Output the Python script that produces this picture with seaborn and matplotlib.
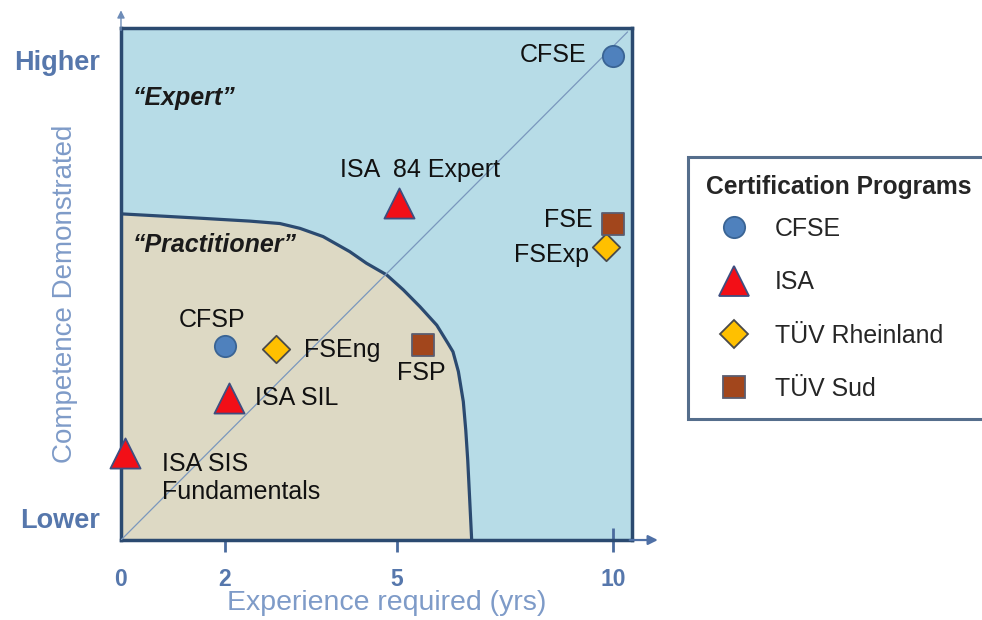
import numpy as np
import pandas as pd
import matplotlib
matplotlib.use("Agg")
import matplotlib.pyplot as plt
from matplotlib.lines import Line2D
import seaborn as sns

# ---------------- data ----------------
programs = ["CFSE", "ISA", "TÜV Rheinland", "TÜV Sud"]
cert_names = ["CFSE", "ISA  84 Expert", "FSE", "FSExp", "CFSP", "FSEng",
              "FSP", "ISA SIL", "ISA SIS\nFundamentals"]
cert_program = ["CFSE", "ISA", "TÜV Sud", "TÜV Rheinland", "CFSE",
                "TÜV Rheinland", "TÜV Sud", "ISA", "ISA"]
experience = [10.0, 5.65, 10.0, 9.86, 2.11, 3.15, 6.14, 2.2, 0.08]
competence = [10.0, 6.96, 6.53, 6.05, 4.01, 3.95, 4.03, 2.93, 1.80]

x_tick_pos = [0, 2.11, 5.61, 10]
x_tick_labels = ["0", "2", "5", "10"]
y_tick_pos = [0.45, 9.92]
y_tick_labels = ["Lower", "Higher"]

# boundary of the "Practitioner" region
boundary_x = [0, 1.61, 2.62, 3.23, 3.64, 4.11, 4.65, 4.99, 5.40, 5.74,
              6.08, 6.42, 6.65, 6.75, 6.86, 6.96, 7.01, 7.05, 7.09, 7.13]
boundary_y = [6.74, 6.65, 6.59, 6.54, 6.44, 6.27, 5.96, 5.72, 5.48, 5.17,
              4.82, 4.44, 4.06, 3.89, 3.48, 2.86, 2.27, 1.65, 0.83, 0]

df = pd.DataFrame({"name": cert_names, "program": cert_program,
                   "experience": experience, "competence": competence})

# ---------------- styles ----------------
sns.set_style("white")
plt.rcParams["font.family"] = ["Liberation Sans", "DejaVu Sans"]

navy = "#2B4A70"
tick_blue = "#5677AC"
label_blue = "#7E9BC8"
bg_blue = "#B7DCE7"
beige = "#DDD9C4"

marker_style = {
    "CFSE": dict(marker="o", fc="#4F81BD", ec="#3A6494", s=235),
    "ISA": dict(marker="^", fc="#F20F17", ec="#3E4E80", s=470),
    "TÜV Rheinland": dict(marker="D", fc="#FFC000", ec="#4A4A4A", s=195),
    "TÜV Sud": dict(marker="s", fc="#A2461C", ec="#5B5D70", s=235),
}

label_offsets = {  # pixel offsets, alignment
    "CFSE": (-26, 1, "right"),
    "ISA  84 Expert": (21, 33, "center"),
    "FSE": (-20, 4, "right"),
    "FSExp": (-17, -8, "right"),
    "CFSP": (-13, 26, "center"),
    "FSEng": (28, -1, "left"),
    "FSP": (-2, -28, "center"),
    "ISA SIL": (26, 0, "left"),
    "ISA SIS\nFundamentals": (37, -25, "left"),
}

fig = plt.figure(figsize=(9.82, 6.2), dpi=100)
ax = fig.add_axes([0.1232, 0.129, 0.5204, 0.8258])
ax.set_xlim(0, 10.39)
ax.set_ylim(0, 10.58)
ax.set_facecolor(bg_blue)

# practitioner region
ax.fill(boundary_x + [0], boundary_y + [0], color=beige, zorder=1, lw=0)
ax.plot(boundary_x, boundary_y, color=navy, lw=2.3, zorder=2,
        solid_joinstyle="round", solid_capstyle="butt")

# diagonal reference line
ax.plot([0, 10.3], [0, 10.5], color="#7A97BD", lw=0.9, zorder=3)

# points
for prog in programs:
    st = marker_style[prog]
    sub = df[df["program"] == prog]
    sns.scatterplot(data=sub, x="experience", y="competence", ax=ax,
                    marker=st["marker"], color=st["fc"], edgecolor=st["ec"],
                    s=st["s"], linewidth=1.3, zorder=5, legend=False,
                    clip_on=False)

for _, row in df.iterrows():
    dx, dy, ha = label_offsets[row["name"]]
    ax.annotate(row["name"], (row["experience"], row["competence"]),
                xytext=(dx, dy), textcoords="offset pixels", ha=ha,
                va="center", fontsize=18, color="#111111",
                linespacing=1.2, zorder=6)

ax.text(0.24, 9.13, "\u201cExpert\u201d", fontsize=18, fontweight="bold",
        style="italic", color="#1a1a1a", va="center", ha="left")
ax.text(0.24, 6.10, "\u201cPractitioner\u201d", fontsize=18,
        fontweight="bold", style="italic", color="#1a1a1a", va="center",
        ha="left")

# spines / box
for sp in ax.spines.values():
    sp.set_visible(True)
    sp.set_color(navy)
    sp.set_linewidth(2.5)

# arrows beyond the box
ax.annotate("", xy=(1.056, 0), xycoords="axes fraction", xytext=(0.99, 0),
            arrowprops=dict(arrowstyle="-|>", color="#4F70A6", lw=1.6,
                            mutation_scale=14), annotation_clip=False)
ax.annotate("", xy=(0, 1.04), xycoords="axes fraction", xytext=(0, 0.99),
            arrowprops=dict(arrowstyle="-|>", color="#6E8CB8", lw=1.0,
                            mutation_scale=11), annotation_clip=False)

ax.set_xticks(x_tick_pos)
ax.set_xticklabels(x_tick_labels)
ax.set_yticks(y_tick_pos)
ax.set_yticklabels(y_tick_labels)
ax.tick_params(axis="x", bottom=True, direction="inout", length=17,
               width=2, color="#4B6B9E", pad=12, labelsize=16.5,
               labelcolor=tick_blue)
ax.tick_params(axis="y", left=False, length=0, pad=15, labelsize=19.5,
               labelcolor=tick_blue)
ax.xaxis.get_major_ticks()[0].tick1line.set_visible(False)
for t in ax.get_xticklabels() + ax.get_yticklabels():
    t.set_fontweight("bold")

ax.set_xlabel("Experience required (yrs)", fontsize=20.5, color=label_blue)
ax.set_ylabel("Competence Demonstrated", fontsize=20, color=label_blue)
ax.xaxis.set_label_coords(0.52, -0.097)
ax.yaxis.set_label_coords(-0.084, 0.48)

# legend
handles = [Line2D([], [], ls="", marker=marker_style[p]["marker"],
                  markerfacecolor=marker_style[p]["fc"],
                  markeredgecolor=marker_style[p]["ec"],
                  markeredgewidth=1.3,
                  markersize=np.sqrt(marker_style[p]["s"]))
           for p in programs]
leg = fig.legend(handles, programs, title="Certification Programs",
                 loc="upper left", bbox_to_anchor=(688 / 982, 1 - 157 / 620),
                 borderaxespad=0, frameon=True, fancybox=False,
                 fontsize=17.9, title_fontproperties={"weight": "bold",
                                                       "size": 17.7},
                 alignment="left", handlelength=2.24, handletextpad=0.52,
                 labelspacing=1.18, borderpad=0.72)
leg._legend_box.sep = 13
leg.get_frame().set_edgecolor(navy)
leg.get_frame().set_linewidth(2.2)

fig.savefig("out.png", dpi=100)
